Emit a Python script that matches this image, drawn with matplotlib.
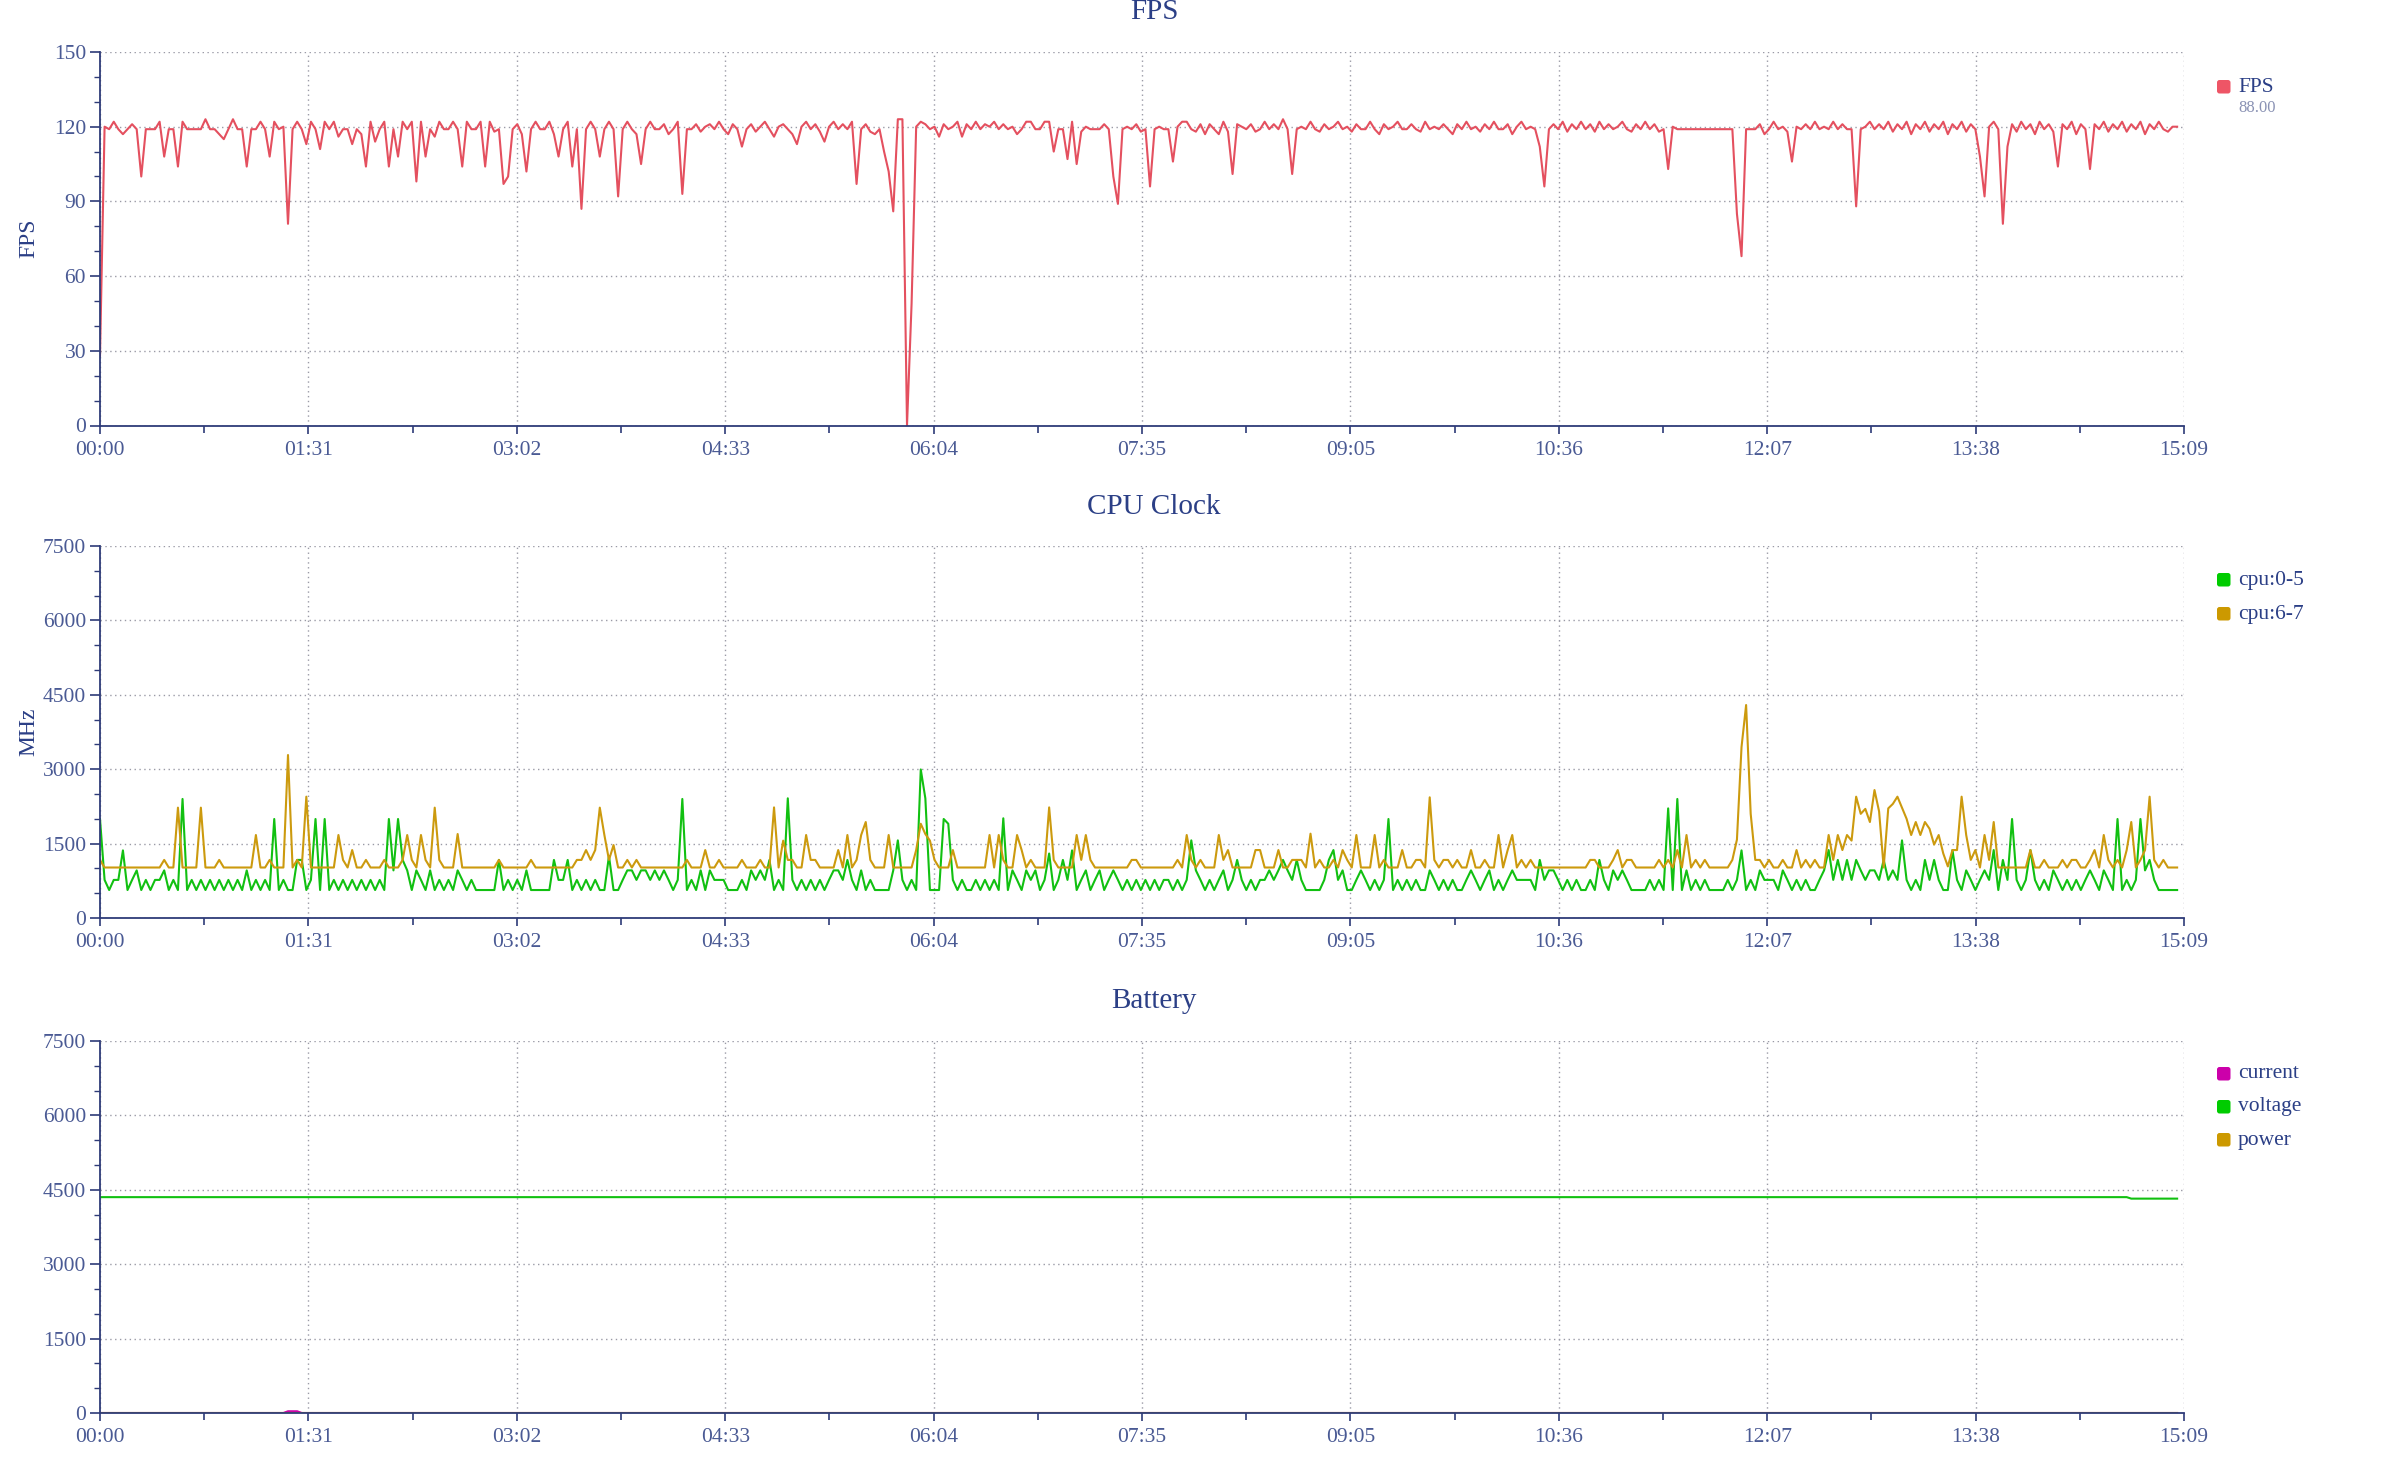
import numpy as np
import matplotlib
matplotlib.use("Agg")
import matplotlib.pyplot as plt
from matplotlib.patches import FancyBboxPatch
from matplotlib.ticker import MultipleLocator, FixedLocator

plt.rcParams['font.family'] = ['Liberation Serif', 'DejaVu Serif']

# time axis: one sample every 2 seconds, 00:00 .. 15:06
step = 2
x_tick_labels = ['00:00', '01:31', '03:02', '04:33', '06:04', '07:35',
                 '09:05', '10:36', '12:07', '13:38', '15:09']
total_sec = 909

fps = [
    28, 120, 119, 122, 119, 117, 119, 121, 119, 100, 119, 119, 119, 122, 108,
    119, 119, 104, 122, 119, 119, 119, 119, 123, 119, 119, 117, 115, 119, 123,
    119, 119, 104, 119, 119, 122, 119, 108, 122, 119, 120, 81, 119, 122, 119,
    113, 122, 119, 111, 122, 119, 122, 116, 119, 119, 113, 119, 117, 104, 122,
    114, 119, 122, 104, 119, 108, 122, 119, 122, 98, 122, 108, 119, 116, 122,
    119, 119, 122, 119, 104, 122, 119, 119, 122, 104, 122, 118, 119, 97, 100,
    119, 121, 117, 102, 119, 122, 119, 119, 122, 117, 108, 119, 122, 104, 119,
    87, 119, 122, 119, 108, 119, 122, 119, 92, 119, 122, 119, 117, 105, 119,
    122, 119, 119, 121, 117, 119, 122, 93, 119, 119, 121, 118, 120, 121, 119,
    122, 119, 117, 121, 119, 112, 119, 121, 118, 120, 122, 119, 116, 120, 121,
    119, 117, 113, 120, 122, 119, 121, 118, 114, 120, 122, 119, 121, 119, 122,
    97, 119, 121, 118, 117, 119, 110, 102, 86, 123, 123, 0, 49, 120, 122,
    121, 119, 120, 116, 121, 119, 120, 122, 116, 121, 119, 122, 119, 121, 120,
    122, 119, 121, 119, 120, 117, 119, 122, 122, 119, 119, 122, 122, 110, 119,
    119, 107, 122, 105, 118, 120, 119, 119, 119, 121, 119, 100, 89, 119, 120,
    119, 121, 118, 119, 96, 119, 120, 119, 119, 106, 120, 122, 122, 119, 118,
    121, 117, 121, 119, 117, 122, 118, 101, 121, 120, 119, 121, 118, 119, 122,
    119, 121, 119, 123, 119, 101, 119, 120, 119, 122, 119, 118, 121, 119, 120,
    122, 119, 120, 118, 121, 119, 119, 122, 119, 117, 121, 119, 120, 122, 119,
    119, 121, 119, 118, 122, 119, 120, 119, 121, 119, 117, 121, 119, 122, 119,
    120, 118, 121, 119, 122, 119, 119, 121, 117, 120, 122, 119, 120, 119, 112,
    96, 119, 121, 119, 122, 118, 121, 119, 122, 119, 121, 118, 122, 119, 121,
    119, 120, 122, 119, 118, 121, 119, 122, 119, 121, 118, 119, 103, 120, 119,
    119, 119, 119, 119, 119, 119, 119, 119, 119, 119, 119, 119, 85, 68, 119,
    119, 119, 121, 117, 119, 122, 119, 120, 118, 106, 120, 119, 121, 119, 122,
    119, 120, 119, 122, 119, 121, 119, 119, 88, 119, 120, 122, 119, 121, 119,
    122, 118, 121, 119, 122, 117, 121, 119, 122, 118, 121, 119, 122, 117, 121,
    119, 122, 118, 121, 119, 108, 92, 120, 122, 119, 81, 112, 121, 118, 122,
    119, 121, 117, 122, 119, 121, 118, 104, 121, 119, 122, 117, 121, 119, 103,
    121, 119, 122, 118, 121, 119, 122, 118, 121, 119, 122, 117, 121, 119, 122,
    119, 118, 120, 120,
]

cpu_0_5 = [
    1996, 768, 564, 768, 768, 1363, 564, 768, 960, 564, 768, 564, 768, 768, 960,
    564, 768, 564, 2400, 564, 768, 564, 768, 564, 768, 564, 768, 564, 768, 564,
    768, 564, 960, 564, 768, 564, 768, 564, 1996, 564, 768, 564, 564, 1171, 1171,
    564, 768, 1996, 564, 1996, 564, 768, 564, 768, 564, 768, 564, 768, 564, 768,
    564, 768, 564, 1996, 960, 1996, 1171, 960, 564, 960, 768, 564, 960, 564, 768,
    564, 768, 564, 960, 768, 564, 768, 564, 564, 564, 564, 564, 1171, 564, 768,
    564, 768, 564, 960, 564, 564, 564, 564, 564, 1171, 768, 768, 1171, 564, 768,
    564, 768, 564, 768, 564, 564, 1250, 564, 564, 768, 960, 960, 768, 960, 960,
    768, 960, 768, 960, 768, 564, 768, 2400, 564, 768, 564, 960, 564, 960, 768,
    768, 768, 564, 564, 564, 768, 564, 960, 768, 960, 768, 1171, 564, 768, 564,
    2413, 768, 564, 768, 564, 768, 564, 768, 564, 768, 960, 960, 768, 1171, 768,
    564, 960, 564, 768, 564, 564, 564, 564, 960, 1565, 768, 564, 768, 564, 2995,
    2413, 564, 564, 564, 1996, 1900, 768, 564, 768, 564, 564, 768, 564, 768, 564,
    768, 564, 2010, 564, 960, 768, 564, 960, 768, 960, 564, 768, 1300, 564, 768,
    1171, 768, 1363, 564, 768, 960, 564, 768, 960, 564, 768, 960, 768, 564, 768,
    564, 768, 564, 768, 564, 768, 564, 768, 768, 564, 768, 564, 768, 1565, 960,
    768, 564, 768, 564, 768, 960, 564, 768, 1171, 768, 564, 768, 564, 768, 768,
    960, 768, 960, 1171, 960, 768, 1171, 768, 564, 564, 564, 564, 768, 1171, 1370,
    768, 960, 564, 564, 768, 960, 768, 564, 768, 564, 768, 1996, 564, 768, 564,
    768, 564, 768, 564, 564, 960, 768, 564, 768, 564, 768, 564, 564, 768, 960,
    768, 564, 768, 960, 564, 768, 564, 768, 960, 768, 768, 768, 768, 564, 1171,
    768, 960, 960, 768, 564, 768, 564, 768, 564, 564, 768, 564, 1171, 768, 564,
    960, 768, 960, 768, 564, 564, 564, 564, 768, 564, 768, 564, 2210, 564, 2400,
    564, 960, 564, 768, 564, 768, 564, 564, 564, 564, 768, 564, 768, 1363, 564,
    768, 564, 960, 768, 768, 768, 564, 960, 768, 564, 768, 564, 768, 564, 564,
    768, 960, 1370, 768, 1171, 768, 1171, 768, 1171, 960, 768, 960, 960, 768, 1171,
    768, 960, 768, 1565, 768, 564, 768, 564, 1171, 768, 1171, 768, 564, 564, 1370,
    768, 564, 960, 768, 564, 768, 960, 768, 1370, 564, 1171, 768, 1996, 768, 564,
    768, 1370, 768, 564, 768, 564, 960, 768, 564, 768, 564, 768, 564, 768, 960,
    768, 564, 960, 768, 564, 1996, 564, 768, 564, 768, 1996, 960, 1171, 768, 564,
    564, 564, 564, 564,
]

cpu_6_7 = [
    1171, 1018, 1018, 1018, 1018, 1018, 1018, 1018, 1018, 1018, 1018, 1018, 1018, 1018, 1171,
    1018, 1018, 2225, 1018, 1018, 1018, 1018, 2225, 1018, 1018, 1018, 1171, 1018, 1018, 1018,
    1018, 1018, 1018, 1018, 1673, 1018, 1018, 1171, 1018, 1018, 1018, 3286, 1018, 1171, 1018,
    2446, 1018, 1018, 1018, 1018, 1018, 1018, 1673, 1171, 1018, 1370, 1018, 1018, 1171, 1018,
    1018, 1018, 1171, 1018, 1018, 1018, 1171, 1673, 1171, 1018, 1673, 1171, 1018, 2225, 1171,
    1018, 1018, 1018, 1693, 1018, 1018, 1018, 1018, 1018, 1018, 1018, 1018, 1171, 1018, 1018,
    1018, 1018, 1018, 1018, 1171, 1018, 1018, 1018, 1018, 1018, 1018, 1018, 1018, 1018, 1171,
    1171, 1370, 1171, 1370, 2225, 1673, 1171, 1470, 1018, 1018, 1171, 1018, 1171, 1018, 1018,
    1018, 1018, 1018, 1018, 1018, 1018, 1018, 1018, 1171, 1018, 1018, 1018, 1370, 1018, 1018,
    1171, 1018, 1018, 1018, 1018, 1171, 1018, 1018, 1018, 1171, 1018, 1018, 2230, 1018, 1560,
    1171, 1171, 1018, 1018, 1673, 1171, 1171, 1018, 1018, 1018, 1018, 1370, 1018, 1673, 1018,
    1171, 1673, 1935, 1171, 1018, 1018, 1018, 1673, 1018, 1018, 1018, 1018, 1018, 1370, 1900,
    1693, 1560, 1171, 1018, 1018, 1018, 1370, 1018, 1018, 1018, 1018, 1018, 1018, 1018, 1673,
    1018, 1673, 1171, 1018, 1018, 1673, 1370, 1018, 1171, 1018, 1018, 1018, 2230, 1171, 1018,
    1018, 1018, 1018, 1673, 1171, 1673, 1171, 1018, 1018, 1018, 1018, 1018, 1018, 1018, 1018,
    1171, 1171, 1018, 1018, 1018, 1018, 1018, 1018, 1018, 1018, 1171, 1018, 1673, 1171, 1018,
    1171, 1018, 1018, 1018, 1673, 1171, 1370, 1018, 1018, 1018, 1018, 1018, 1370, 1370, 1018,
    1018, 1018, 1370, 1018, 1018, 1171, 1171, 1171, 1018, 1700, 1018, 1171, 1018, 1018, 1171,
    1018, 1370, 1171, 1018, 1673, 1018, 1018, 1018, 1673, 1018, 1171, 1018, 1018, 1018, 1370,
    1018, 1018, 1171, 1171, 1018, 2433, 1171, 1018, 1171, 1171, 1018, 1171, 1018, 1018, 1370,
    1018, 1018, 1171, 1018, 1018, 1673, 1018, 1370, 1673, 1018, 1171, 1018, 1171, 1018, 1018,
    1018, 1018, 1018, 1018, 1018, 1018, 1018, 1018, 1018, 1018, 1171, 1171, 1018, 1018, 1018,
    1171, 1370, 1018, 1171, 1171, 1018, 1018, 1018, 1018, 1018, 1171, 1018, 1171, 1018, 1370,
    1018, 1673, 1018, 1171, 1018, 1171, 1018, 1018, 1018, 1018, 1018, 1171, 1580, 3447, 4294,
    2100, 1171, 1171, 1018, 1171, 1018, 1018, 1171, 1018, 1018, 1370, 1018, 1171, 1018, 1171,
    1018, 1018, 1673, 1171, 1673, 1370, 1673, 1560, 2446, 2100, 2200, 1935, 2580, 2150, 1018,
    2210, 2300, 2446, 2225, 2000, 1673, 1935, 1673, 1935, 1800, 1480, 1673, 1300, 1040, 1370,
    1370, 2446, 1673, 1171, 1370, 1018, 1673, 1171, 1935, 1018, 1018, 1018, 1018, 1018, 1018,
    1018, 1370, 1018, 1018, 1171, 1018, 1018, 1018, 1171, 1018, 1171, 1171, 1018, 1018, 1171,
    1370, 1018, 1673, 1171, 1018, 1171, 1018, 1370, 1935, 1018, 1171, 1370, 2446, 1171, 1018,
    1171, 1018, 1018, 1018,
]

# battery readings (sparse, values hold between samples)
current_t = [0, 80, 82, 86, 88, 906]
current = [0, 0, 35, 35, 0, 0]
voltage_t = [0, 884, 886, 906]
voltage = [4352, 4352, 4322, 4322]
power_t = [0, 906]
power = [0, 0]

fps_last = '88.00'

TITLE_C = '#2b3f86'
TICK_C = '#4a5a94'
AXIS_C = '#2e3b78'
GRID_C = '#9a9aa6'

W, H = 2400, 1461
fig = plt.figure(figsize=(24, 14.61), dpi=100)


def make_axes(top_px, bottom_px):
    ax = fig.add_axes([100 / W, 1 - bottom_px / H, 2084 / W, (bottom_px - top_px) / H])
    for s in ['top', 'right']:
        ax.spines[s].set_visible(False)
    for s in ['left', 'bottom']:
        ax.spines[s].set_color(AXIS_C)
        ax.spines[s].set_linewidth(1.3)
    ax.set_xlim(0, total_sec)
    ax.xaxis.set_major_locator(FixedLocator(np.linspace(0, total_sec, len(x_tick_labels))))
    ax.xaxis.set_minor_locator(FixedLocator(np.linspace(0, total_sec, 2 * len(x_tick_labels) - 1)))
    ax.set_xticklabels(x_tick_labels)
    ax.tick_params(axis='x', which='major', length=6, width=1.2, color=AXIS_C,
                   labelcolor=TICK_C, labelsize=15.5, pad=5)
    ax.tick_params(axis='x', which='minor', length=5, width=1.2, color=AXIS_C)
    ax.tick_params(axis='y', which='major', length=7, width=1.2, color=AXIS_C,
                   labelcolor=TICK_C, labelsize=15.5, pad=3)
    ax.tick_params(axis='y', which='minor', length=4, width=1.0, color=AXIS_C)
    ax.grid(True, which='major', color=GRID_C, linestyle=(0, (1, 2.5)), linewidth=1.0)
    ax.set_axisbelow(True)
    return ax


def legend_item(y_px, color, label):
    fig.add_artist(FancyBboxPatch((2217 / 100, (H - y_px - 6.5) / 100), 0.135, 0.135,
                                  boxstyle='round,pad=0,rounding_size=0.025',
                                  transform=fig.dpi_scale_trans, fc=color, ec='none'))
    fig.text(2238 / W, 1 - y_px / H, label, va='center', ha='left',
             fontsize=15.5, color=TITLE_C)


def title(y_px, text):
    fig.text(1154 / W, 1 - y_px / H, text, ha='center', va='center',
             fontsize=21, color=TITLE_C)


# FPS
t = np.arange(len(fps)) * step
ax1 = make_axes(52, 425.5)
ax1.plot(t, fps, color='#e4505f', lw=1.5)
ax1.set_ylim(0, 150)
ax1.yaxis.set_major_locator(MultipleLocator(30))
ax1.yaxis.set_minor_locator(MultipleLocator(10))
ax1.set_ylabel('FPS', fontsize=17, color=TITLE_C)
ax1.yaxis.set_label_coords(-0.029, 0.5)
title(12, 'FPS')
legend_item(87, '#ee5566', 'FPS')
fig.text(2238 / W, 1 - 108 / H, fps_last, va='center', ha='left', fontsize=12, color='#8a92b4')

# CPU clock
t = np.arange(len(cpu_0_5)) * step
ax2 = make_axes(546, 918)
ax2.plot(t, cpu_0_5, color='#11c011', lw=1.5)
ax2.plot(np.arange(len(cpu_6_7)) * step, cpu_6_7, color='#cc9a0e', lw=1.5)
ax2.set_ylim(0, 7500)
ax2.yaxis.set_major_locator(MultipleLocator(1500))
ax2.yaxis.set_minor_locator(MultipleLocator(500))
ax2.set_ylabel('MHz', fontsize=17, color=TITLE_C)
ax2.yaxis.set_label_coords(-0.029, 0.5)
title(507, 'CPU Clock')
legend_item(580, '#00cc00', 'cpu:0-5')
legend_item(614, '#cc9900', 'cpu:6-7')

# Battery
ax3 = make_axes(1041, 1413)
ax3.plot(current_t, current, color='#cc00aa', lw=1.5)
ax3.plot(voltage_t, voltage, color='#11c011', lw=1.5)
ax3.plot(power_t, power, color='#cc9a0e', lw=1.5)
ax3.set_ylim(0, 7500)
ax3.yaxis.set_major_locator(MultipleLocator(1500))
ax3.yaxis.set_minor_locator(MultipleLocator(500))
title(1001, 'Battery')
legend_item(1074, '#cc00aa', 'current')
legend_item(1107, '#00cc00', 'voltage')
legend_item(1140, '#cc9900', 'power')

fig.savefig('out.png', dpi=100)
